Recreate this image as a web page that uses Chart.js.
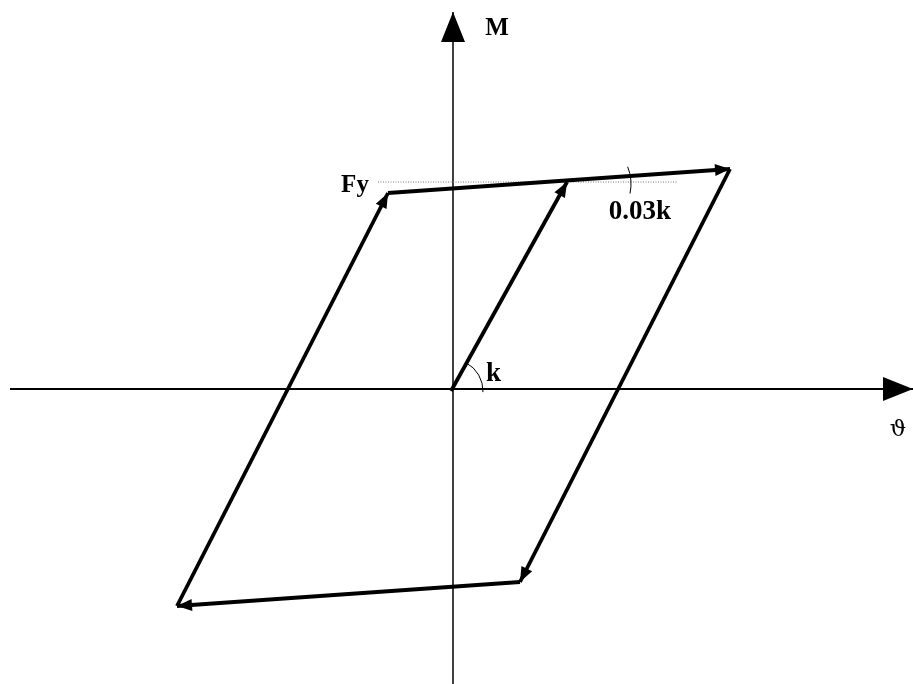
<!DOCTYPE html>
<html>
<head>
<meta charset="utf-8">
<script src="https://cdn.jsdelivr.net/npm/chart.js@4"></script>
<style>
  html, body { margin: 0; padding: 0; background: #fff; }
  #wrap { width: 913px; height: 684px; position: relative; }
</style>
</head>
<body>
<div id="wrap"><canvas id="loopChart"></canvas></div>
<script>
// hysteresis loop, rotation (theta) vs moment (M), arbitrary units
const loadPath = [{x: -0.02, y: -0.02}, {x: 1.14, y: 2.07}];
const topBranch = [{x: -0.65, y: 1.96}, {x: 2.77, y: 2.20}];
const unloadPath = [{x: 2.77, y: 2.20}, {x: 0.67, y: -1.93}];
const bottomBranch = [{x: 0.67, y: -1.93}, {x: -2.76, y: -2.17}];
const reloadPath = [{x: -2.76, y: -2.17}, {x: -0.65, y: 1.96}];
const yieldLine = [{x: -0.75, y: 2.07}, {x: 2.25, y: 2.07}];
const thetaAxis = [{x: -4.43, y: 0}, {x: 4.60, y: 0}];
const momentAxis = [{x: 0, y: -2.95}, {x: 0, y: 3.77}];

const labels = [
  {text: 'M', x: 0.44, y: 3.54, font: 'bold 25px "Liberation Serif", serif'},
  {text: 'Fy', x: -0.98, y: 1.97, font: 'bold 25px "Liberation Serif", serif'},
  {text: '0.03k', x: 1.87, y: 1.705, font: 'bold 27px "Liberation Serif", serif'},
  {text: 'k', x: 0.405, y: 0.08, font: 'bold 27px "Liberation Serif", serif'},
  {text: '\u03D1', x: 4.45, y: -0.47, font: '23px "DejaVu Serif", serif'}
];

function pathSet(points) {
  return {data: points, borderColor: '#000', borderWidth: 3.8, arrow: 'small'};
}

const arrowPlugin = {
  id: 'arrows',
  afterDatasetsDraw(chart) {
    const ctx = chart.ctx;
    const xs = chart.scales.x;
    const ys = chart.scales.y;
    ctx.save();
    chart.data.datasets.forEach((ds, i) => {
      if (!ds.arrow) return;
      const pts = chart.getDatasetMeta(i).data;
      const a = pts[pts.length - 2];
      const b = pts[pts.length - 1];
      const ang = Math.atan2(b.y - a.y, b.x - a.x);
      const len = ds.arrow === 'big' ? 30 : 15;
      const half = ds.arrow === 'big' ? 12 : 6;
      ctx.fillStyle = '#000';
      ctx.beginPath();
      ctx.moveTo(b.x, b.y);
      ctx.lineTo(b.x - len * Math.cos(ang) + half * Math.sin(ang), b.y - len * Math.sin(ang) - half * Math.cos(ang));
      ctx.lineTo(b.x - len * Math.cos(ang) - half * Math.sin(ang), b.y - len * Math.sin(ang) + half * Math.cos(ang));
      ctx.closePath();
      ctx.fill();
    });

    // angle marks for k and 0.03k
    ctx.strokeStyle = '#000';
    ctx.lineWidth = 1;
    const o = chart.getDatasetMeta(0).data[0];
    ctx.beginPath();
    ctx.arc(o.x, o.y, 32, -62 * Math.PI / 180, 2 * Math.PI / 180);
    ctx.stroke();
    const cx = xs.getPixelForValue(1.32);
    const cy = ys.getPixelForValue(2.05);
    ctx.beginPath();
    ctx.arc(cx, cy, 46, -22 * Math.PI / 180, 12 * Math.PI / 180);
    ctx.stroke();

    ctx.fillStyle = '#000';
    ctx.textAlign = 'center';
    ctx.textBaseline = 'alphabetic';
    labels.forEach(l => {
      ctx.font = l.font;
      ctx.fillText(l.text, xs.getPixelForValue(l.x), ys.getPixelForValue(l.y));
    });
    ctx.restore();
  }
};

new Chart(document.getElementById('loopChart'), {
  type: 'scatter',
  data: {
    datasets: [
      pathSet(loadPath),
      pathSet(topBranch),
      pathSet(unloadPath),
      pathSet(bottomBranch),
      pathSet(reloadPath),
      {data: yieldLine, borderColor: '#777', borderWidth: 1, borderDash: [1, 1.5]},
      {data: thetaAxis, borderColor: '#000', borderWidth: 2, arrow: 'big'},
      {data: momentAxis, borderColor: '#000', borderWidth: 1.5, arrow: 'big'}
    ]
  },
  options: {
    responsive: true,
    maintainAspectRatio: false,
    animation: false,
    showLine: true,
    clip: false,
    layout: {padding: 0},
    elements: {point: {radius: 0, hoverRadius: 0}, line: {borderCapStyle: 'butt'}},
    plugins: {legend: {display: false}, tooltip: {enabled: false}},
    events: [],
    scales: {
      x: {type: 'linear', display: false, min: -4.53, max: 4.60},
      y: {type: 'linear', display: false, min: -2.95, max: 3.89}
    }
  },
  plugins: [arrowPlugin]
});
</script>
</body>
</html>
